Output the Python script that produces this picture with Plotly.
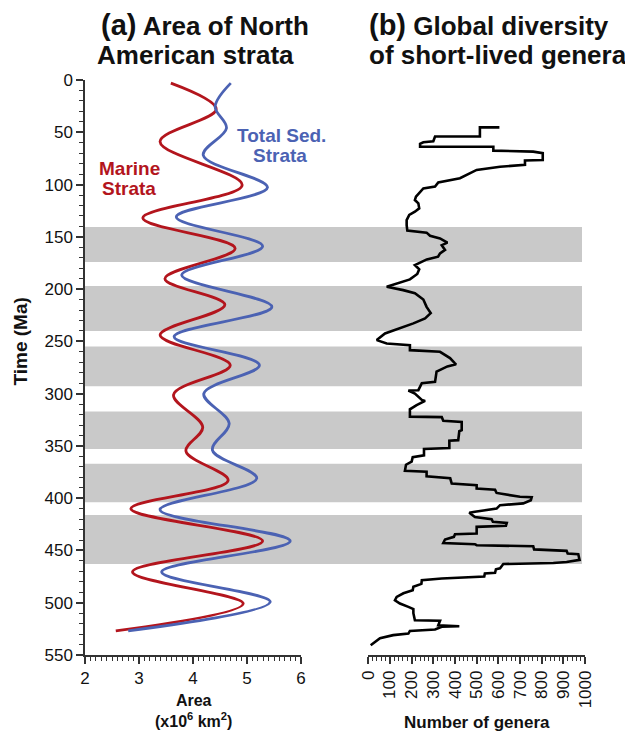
import plotly.graph_objects as go

W, H = 633, 734
OFF = 8  # the page places the figure 8 px from the window's top-left corner

# ---------------- data ----------------
marine_time = [3, 28, 59, 100.5, 132, 161, 190, 215, 244, 272.7, 301, 332, 355, 383, 410, 441, 470.5, 500.8, 527]
marine_area = [3.59, 4.43, 3.39, 4.91, 3.07, 4.78, 3.48, 4.59, 3.39, 4.69, 3.64, 4.18, 3.87, 4.65, 2.85, 5.29, 2.88, 4.93, 2.57]

total_time = [3, 25.5, 46, 72, 102.7, 131, 159, 186.6, 217, 245.6, 272.7, 300, 328.5, 354, 381, 411, 441, 470.5, 499, 527]
total_area = [4.70, 4.41, 4.62, 4.19, 5.38, 3.69, 5.29, 3.79, 5.46, 3.65, 5.23, 4.20, 4.67, 4.36, 5.18, 3.39, 5.80, 3.42, 5.43, 2.80]

genera_time = [45.3, 45.3, 54, 54, 58.6, 59.6, 61, 63.8, 63.8, 67.6, 68.5, 70, 76.5, 77, 81, 83, 86, 91, 94, 98,
               102, 103.7, 107, 111.6, 114.8, 118, 122.8, 126, 129, 134, 138.8, 144, 146, 149, 151.5, 155.6, 158,
               162.5, 165.8, 169, 171.6, 174.7, 177, 181, 185.6, 190.7, 194, 197.8, 201, 204, 210, 217, 223, 228,
               232.8, 237.6, 242.4, 248.8, 252, 253.6, 258.4, 260, 266, 271, 272, 274, 279, 288.7, 290, 296.7, 297,
               300, 306, 307, 311, 315, 322, 322.5, 326, 327, 335, 336, 344.5, 345, 352, 353, 359, 360.7, 365, 368,
               373.8, 374.7, 379, 381, 386, 387.6, 390.8, 392, 395, 398.7, 399, 402, 405, 406.7, 410, 413, 414, 418,
               420, 422.6, 423.6, 426.4, 427.4, 433.8, 434.4, 437, 439.5, 442.8, 444, 445, 446, 449, 450.4, 453,
               453.6, 459, 461, 462, 463, 467, 468, 471.3, 472, 475, 476.8, 478.5, 482, 484.8, 488, 491, 494.4,
               497.6, 500.8, 504, 506, 510, 516.7, 517.3, 521.5, 522.5, 523, 525.6, 527, 529.5, 531, 534, 537.5, 540.6]
genera_count = [605, 515, 515, 308, 300, 254, 239, 239, 577, 577, 761, 805, 805, 723, 723, 608, 500, 454, 423, 323,
                308, 254, 239, 220, 215, 231, 235, 215, 189, 177, 177, 180, 269, 285, 331, 365, 339,
                354, 331, 322, 270, 239, 215, 235, 226, 192, 138, 85, 161, 215, 254, 269, 288, 262,
                208, 146, 77, 39, 85, 192, 192, 331, 377, 400, 405, 365, 315, 308, 247, 231, 185,
                215, 247, 262, 223, 192, 192, 339, 346, 431, 431, 420, 415, 374, 374, 257, 257, 205, 200, 174,
                169, 269, 269, 378, 385, 500, 500, 585, 592, 700, 754, 750, 715, 608, 592, 492, 466, 492,
                569, 575, 639, 635, 500, 500, 400, 395, 354, 346, 492, 500, 761, 765, 915, 920,
                969, 975, 915, 854, 623, 608, 589, 585, 538, 535, 339, 247, 245, 208, 205, 162, 131,
                123, 146, 185, 208, 208, 215, 331, 323, 420, 339, 308, 192, 185, 115, 54, 31, 11]

band_start = [140.5, 197, 255, 317, 367, 416]
band_end = [174, 240, 293, 353, 404, 463]

area_ticks = [2, 3, 4, 5, 6]
genera_ticks = [0, 100, 200, 300, 400, 500, 600, 700, 800, 900, 1000]
time_ticks = list(range(0, 551, 50))

RED = "#b3151d"
BLUE = "#4b62b3"
AXC = "#333333"
FONT = "Liberation Sans, Arial, sans-serif"


def px(x):
    return (x - OFF) / W


def py(y):
    return 1 - (y - OFF) / H


fig = go.Figure()
fig.add_trace(go.Scatter(x=marine_area, y=marine_time, mode="lines", xaxis="x", yaxis="y",
                         line=dict(color=RED, width=2.8, shape="spline", smoothing=1.0),
                         showlegend=False, hoverinfo="skip"))
fig.add_trace(go.Scatter(x=total_area, y=total_time, mode="lines", xaxis="x", yaxis="y",
                         line=dict(color=BLUE, width=2.8, shape="spline", smoothing=1.0),
                         showlegend=False, hoverinfo="skip"))
fig.add_trace(go.Scatter(x=genera_count, y=genera_time, mode="lines", xaxis="x2", yaxis="y",
                         line=dict(color="black", width=2.6), showlegend=False, hoverinfo="skip"))

shapes = []
for s, e in zip(band_start, band_end):
    shapes.append(dict(type="rect", xref="paper", yref="y", x0=px(85), x1=px(582), y0=s, y1=e,
                       fillcolor="#c9c9c9", line=dict(width=0), layer="below"))

common_axis = dict(showline=True, linecolor=AXC, linewidth=1.5, ticks="outside", ticklen=7, tickwidth=1.5,
                   tickcolor=AXC, showgrid=False, zeroline=False, automargin=False,
                   tickfont=dict(family=FONT, size=17, color="#111"))

ann = []


def add_text(text, x, y, size, color="#111", xanchor="center", textangle=0):
    ann.append(dict(text=text, x=px(x), y=py(y), xref="paper", yref="paper", showarrow=False,
                    xanchor=xanchor, yanchor="middle", textangle=textangle,
                    font=dict(family=FONT, size=size, color=color)))


add_text("<b><span style='font-size:29px'>(a)</span> Area of North</b>", 99, 25, 26, xanchor="left")
add_text("<b>American strata</b>", 95, 55, 26, xanchor="left")
add_text("<b><span style='font-size:29px'>(b)</span> Global diversity</b>", 367, 25, 26, xanchor="left")
add_text("<b>of short-lived genera</b>", 367, 55, 26, xanchor="left")
add_text("<b>Marine</b>", 129, 168, 19, color=RED)
add_text("<b>Strata</b>", 129, 188, 19, color=RED)
add_text("<b>Total Sed.</b>", 281, 135, 19, color=BLUE)
add_text("<b>Strata</b>", 280, 156, 19, color=BLUE)
add_text("<b>Time (Ma)</b>", 8, 342, 19, xanchor="left", textangle=-90)
add_text("<b>Area<br>(x10<sup>6</sup> km<sup>2</sup>)</b>", 193, 711, 16)
add_text("<b>Number of genera</b>", 477, 722, 17)

fig.update_layout(
    template="none",
    width=W, height=H, autosize=False,
    margin=dict(l=0, r=0, t=0, b=0, pad=0, autoexpand=False),
    paper_bgcolor="white", plot_bgcolor="rgba(0,0,0,0)",
    shapes=shapes, annotations=ann, showlegend=False,
    xaxis=dict(domain=[px(85), px(301)], range=[2, 6], anchor="y", tickvals=area_ticks,
               minor=dict(dtick=0.1, tick0=2, ticks="outside", ticklen=4, tickwidth=1, tickcolor=AXC),
               **common_axis),
    xaxis2=dict(domain=[px(368.3), px(585)], range=[0, 1000], anchor="y", tickvals=genera_ticks,
                tickangle=-90,
                minor=dict(dtick=20, tick0=0, ticks="outside", ticklen=4, tickwidth=1, tickcolor=AXC),
                **common_axis),
    yaxis=dict(domain=[py(655), py(80)], range=[550, 0], anchor="x", tickvals=time_ticks,
               minor=dict(dtick=10, tick0=0, ticks="outside", ticklen=4, tickwidth=1, tickcolor=AXC),
               **common_axis),
)

fig.write_html("out.html")
